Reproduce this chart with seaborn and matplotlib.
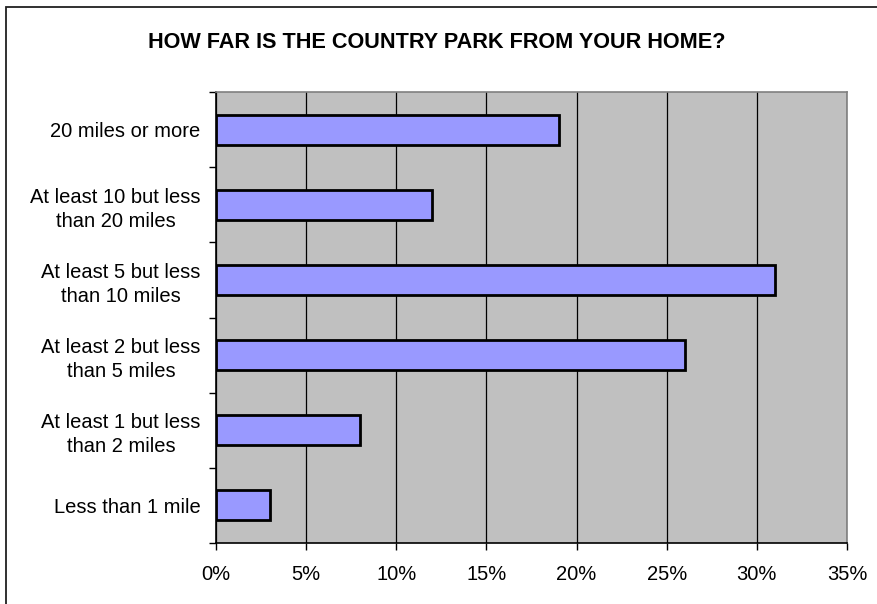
import matplotlib
matplotlib.use("Agg")
import matplotlib.pyplot as plt
import matplotlib.patches as mpatches
from matplotlib.ticker import MultipleLocator, FuncFormatter
import seaborn as sns
import pandas as pd

# Survey responses: distance from home to the country park
categories = [
    "20 miles or more",
    "At least 10 but less\nthan 20 miles",
    "At least 5 but less\nthan 10 miles",
    "At least 2 but less\nthan 5 miles",
    "At least 1 but less\nthan 2 miles",
    "Less than 1 mile",
]
percentages = [19, 12, 31, 26, 8, 3]
title = "HOW FAR IS THE COUNTRY PARK FROM YOUR HOME?"

df = pd.DataFrame({"distance": categories, "share": percentages})

sns.set_style("white")
plt.rcParams["font.family"] = ["Liberation Sans", "DejaVu Sans"]
plt.rcParams["text.color"] = "black"
plt.rcParams["xtick.color"] = "black"
plt.rcParams["ytick.color"] = "black"

W, H = 877, 604
fig = plt.figure(figsize=(W / 100, H / 100), dpi=100)
ax = fig.add_axes([216 / W, 1 - 543 / H, (847 - 216) / W, (543 - 92) / H])

sns.barplot(data=df, y="distance", x="share", order=categories, orient="h",
            color="#9999FF", saturation=1, width=0.4,
            edgecolor="black", linewidth=2, ax=ax, zorder=3)

ax.set_facecolor("#C0C0C0")
ax.set_xlim(0, 35)
ax.set_ylim(5.5, -0.5)
ax.xaxis.set_major_locator(MultipleLocator(5))
ax.xaxis.set_major_formatter(FuncFormatter(lambda v, p: f"{v:.0f}%"))
ax.grid(axis="x", color="black", linewidth=0.9, zorder=1)
ax.grid(axis="y", visible=False)
ax.set_axisbelow(True)

# category boundary ticks on the y axis
ax.set_yticks([i + 0.5 for i in range(-1, 6)], minor=True)
ax.tick_params(axis="y", which="major", length=0, pad=11, labelsize=14.5,
               labelcolor="black")
ax.tick_params(axis="y", which="minor", length=5, width=1, color="black", left=True)
ax.tick_params(axis="x", which="major", length=5, width=1, color="black",
               bottom=True, pad=10.5, labelsize=14.5, labelcolor="black")
for lab in ax.get_yticklabels():
    lab.set_multialignment("center")
    lab.set_linespacing(1.35)

ax.set_xlabel("")
ax.set_ylabel("")

for side in ["top", "right"]:
    ax.spines[side].set_visible(True)
    ax.spines[side].set_color("#808080")
    ax.spines[side].set_linewidth(1.2)
for side in ["left", "bottom"]:
    ax.spines[side].set_color("black")
    ax.spines[side].set_linewidth(1.2)

fig.text(437 / W, 1 - 42 / H, title, ha="center", va="center",
         fontsize=15.6, fontweight="bold", color="black")

# outer chart-area frame (runs off the right and bottom edges)
frame = mpatches.Rectangle((6 / W, -0.1), 1.2, 1.1 - 7 / H,
                           transform=fig.transFigure, fill=False,
                           edgecolor="#202020", linewidth=1.3, clip_on=False)
fig.patches.append(frame)

fig.savefig("out.png", dpi=100)
